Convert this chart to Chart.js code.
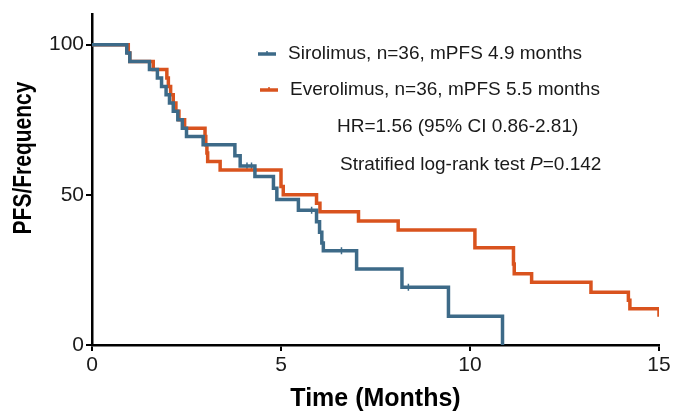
<!DOCTYPE html>
<html>
<head>
<meta charset="utf-8">
<script src="https://cdn.jsdelivr.net/npm/chart.js@4.4.1/dist/chart.umd.min.js"></script>
<style>
    html, body { margin: 0; padding: 0; background: #fff; }
    #wrap { width: 675px; height: 414px; }
</style>
</head>
<body>
<div id="wrap"><canvas id="kmChart" width="675" height="414"></canvas></div>
<script>
const sirolimusTimes = [0, 0.92, 1.0, 1.52, 1.73, 1.84, 1.96, 2.05, 2.15, 2.27, 2.39, 2.5, 2.94, 3.78, 3.92, 4.31, 4.8, 4.89, 5.46, 5.94, 6.02, 6.08, 6.12, 7.0, 8.2, 9.43, 10.86];
const sirolimusPFS = [100, 97.2, 94.4, 91.7, 88.9, 86.1, 83.3, 80.6, 77.8, 75.0, 72.2, 69.4, 66.7, 63.0, 59.6, 56.1, 52.2, 48.4, 44.9, 41.0, 37.5, 34.0, 31.4, 25.3, 19.2, 9.6, 0];
const sirolimusCensorTimes = [4.1, 4.22, 5.81, 6.6, 8.37];
const sirolimusCensorPFS = [59.6, 59.6, 44.9, 31.4, 19.2];

const everolimusTimes = [0, 0.96, 1.0, 1.62, 1.98, 2.02, 2.08, 2.15, 2.22, 2.3, 2.45, 2.99, 3.01, 3.04, 3.06, 3.39, 5.0, 5.06, 5.94, 6.03, 7.05, 8.1, 10.13, 11.15, 11.17, 11.63, 13.2, 14.19, 14.23, 15];
const everolimusPFS = [100, 97.2, 94.4, 91.7, 88.9, 86.1, 83.3, 80.6, 77.8, 75.0, 72.2, 69.4, 66.7, 63.9, 61.1, 58.3, 52.8, 50.0, 47.2, 44.4, 41.3, 38.3, 32.4, 27.0, 23.7, 20.9, 17.6, 14.9, 12.1, 9.4];

const xTicks = [0, 5, 10, 15];
const yTicks = [0, 50, 100];

const legendLabels = [
    "Sirolimus, n=36, mPFS 4.9 months",
    "Everolimus, n=36, mPFS 5.5 months"
];
const statsHR = "HR=1.56 (95% CI 0.86-2.81)";
const statsTest = ["Stratified log-rank test ", "P", "=0.142"];
const yTitle = "PFS/Frequency";
const xTitle = "Time (Months)";

const BLUE = "#3d6a88";
const ORANGE = "#d9531e";
const FONT = "'Liberation Sans', Arial, sans-serif";

function toPoints(xs, ys) {
    return xs.map((x, i) => ({ x: x, y: ys[i] }));
}

const annotationPlugin = {
    id: "kmText",
    afterDraw(chart) {
        const ctx = chart.ctx;
        ctx.save();
        ctx.textBaseline = "middle";
        ctx.textAlign = "left";
        ctx.fillStyle = "#1a1a1a";
        ctx.font = `19px ${FONT}`;

        const rows = [
            { color: BLUE, text: legendLabels[0], lx: 258, tx: 288, y: 54 },
            { color: ORANGE, text: legendLabels[1], lx: 260, tx: 290, y: 90 }
        ];
        rows.forEach((r) => {
            ctx.strokeStyle = r.color;
            ctx.lineWidth = 3.5;
            ctx.beginPath();
            ctx.moveTo(r.lx, r.y);
            ctx.lineTo(r.lx + 18, r.y);
            ctx.stroke();
            ctx.lineWidth = 1.5;
            ctx.beginPath();
            ctx.moveTo(r.lx + 9, r.y - 3);
            ctx.lineTo(r.lx + 9, r.y + 1);
            ctx.stroke();
            ctx.fillStyle = "#1a1a1a";
            ctx.fillText(r.text, r.tx, r.y);
        });

        ctx.fillText(statsHR, 337, 127);

        let x = 340;
        const y = 165;
        ctx.font = `19px ${FONT}`;
        ctx.fillText(statsTest[0], x, y);
        x += ctx.measureText(statsTest[0]).width;
        ctx.font = `italic 19px ${FONT}`;
        ctx.fillText(statsTest[1], x, y);
        x += ctx.measureText(statsTest[1]).width;
        ctx.font = `19px ${FONT}`;
        ctx.fillText(statsTest[2], x, y);

        // y axis title, a little thicker than tall like the source figure
        ctx.translate(24, 158);
        ctx.rotate(-Math.PI / 2);
        ctx.scale(1, 1.2);
        ctx.textAlign = "center";
        ctx.fillStyle = "#000";
        ctx.font = `bold 21px ${FONT}`;
        ctx.fillText(yTitle, 0, 0);
        ctx.restore();
    }
};

new Chart(document.getElementById("kmChart"), {
    type: "line",
    data: {
        datasets: [
            {
                label: "Sirolimus",
                data: toPoints(sirolimusTimes, sirolimusPFS),
                borderColor: BLUE,
                borderWidth: 3.5,
                stepped: "before",
                pointRadius: 0,
                fill: false
            },
            {
                label: "Everolimus",
                data: toPoints(everolimusTimes, everolimusPFS),
                borderColor: ORANGE,
                borderWidth: 3.5,
                stepped: "before",
                pointRadius: 0,
                fill: false
            },
            {
                label: "Sirolimus censored",
                data: toPoints(sirolimusCensorTimes, sirolimusCensorPFS),
                showLine: false,
                borderColor: BLUE,
                borderWidth: 1.5,
                pointStyle: "line",
                pointRotation: 90,
                pointRadius: 3.5
            }
        ]
    },
    options: {
        responsive: false,
        animation: false,
        layout: { padding: { left: 0, right: 16, top: 12, bottom: 0 } },
        plugins: {
            legend: { display: false },
            tooltip: { enabled: false }
        },
        scales: {
            x: {
                type: "linear",
                min: 0,
                max: 15,
                afterBuildTicks: (scale) => { scale.ticks = xTicks.map((v) => ({ value: v })); },
                afterFit: (scale) => { scale.height = 69; },
                grid: { drawOnChartArea: false, color: "#000", lineWidth: 2, tickLength: 6 },
                border: { color: "#000", width: 2.5 },
                ticks: { color: "#1a1a1a", font: { family: FONT, size: 21 }, padding: 2, maxRotation: 0 },
                title: {
                    display: true,
                    text: xTitle,
                    color: "#000",
                    font: { family: FONT, size: 25, weight: "bold" },
                    padding: { top: 0, bottom: 0 }
                }
            },
            y: {
                min: 0,
                max: 110,
                afterBuildTicks: (scale) => { scale.ticks = yTicks.map((v) => ({ value: v })); },
                afterFit: (scale) => { scale.width = 92; },
                grid: { drawOnChartArea: false, color: "#000", lineWidth: 2, tickLength: 6 },
                border: { color: "#000", width: 2.5 },
                ticks: { color: "#1a1a1a", font: { family: FONT, size: 21 }, padding: 2 },
                title: { display: false }
            }
        }
    },
    plugins: [annotationPlugin]
});
</script>
</body>
</html>
